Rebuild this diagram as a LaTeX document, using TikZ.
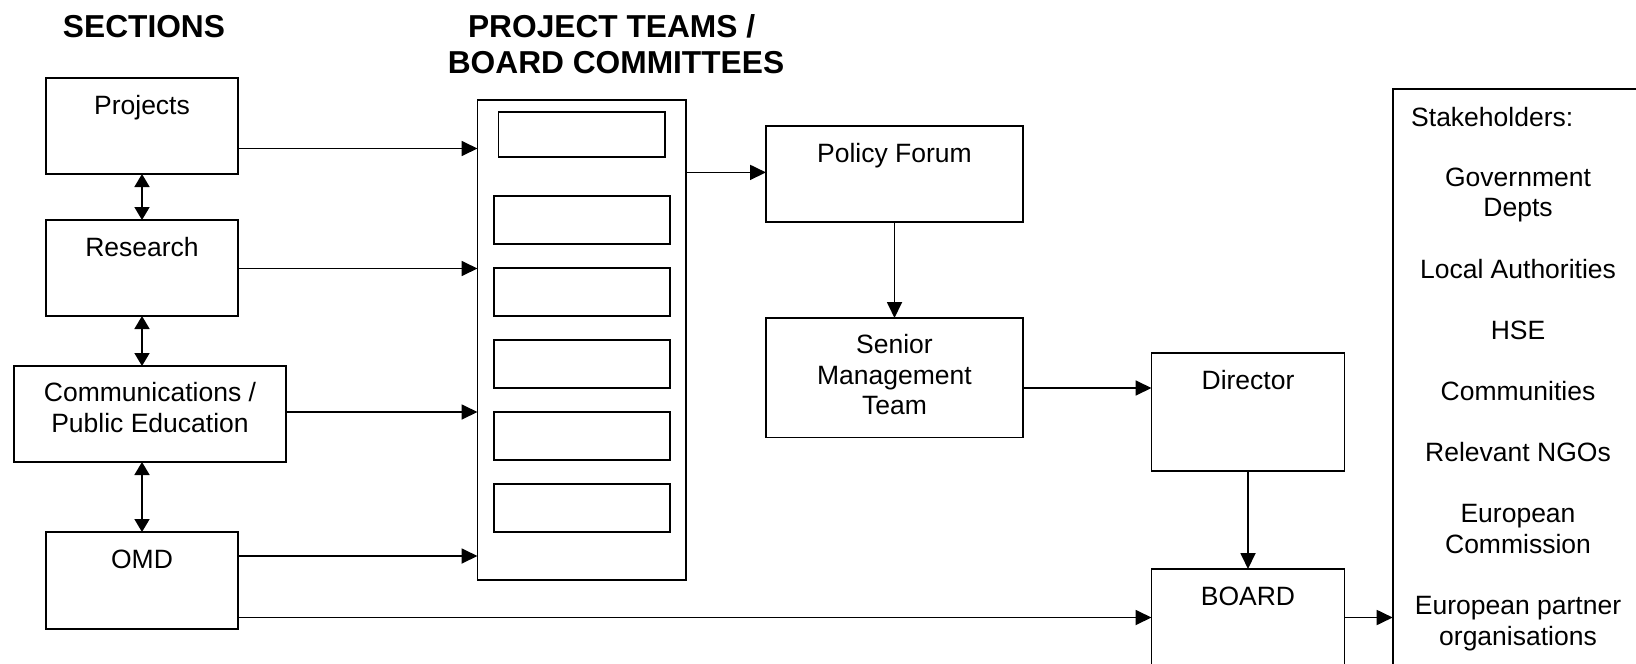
\documentclass[tikz,border=0pt]{standalone}
\usepackage{fontspec}
\setmainfont{Liberation Sans}
\usetikzlibrary{arrows.meta,calc}
\newcommand{\bodyfont}{\fontsize{26.5pt}{30.6pt}\selectfont}
\newcommand{\titlefont}{\fontsize{31.7pt}{36pt}\selectfont\bfseries}
\begin{document}
\begin{tikzpicture}[x=1pt,y=-1pt,
  box/.style={draw, line width=1.8pt, fill=white, inner sep=0pt, outer sep=0pt},
  lbl/.style={anchor=north, inner sep=0pt, align=center, font=\bodyfont,
    execute at begin node={\rule{0pt}{20pt}}},
  arr/.style={line width=1.8pt, -{Triangle[length=16pt,width=15pt]}},
  dbl/.style={line width=1.8pt, {Triangle[length=13pt,width=15pt]}-{Triangle[length=13pt,width=15pt]}}
]
\useasboundingbox (0,0) rectangle (1636,664);
\clip (0,0) rectangle (1636,664);
\fill[white] (0,0) rectangle (1636,664);

% titles
\node[anchor=base, inner sep=0pt, font=\titlefont] (tsec) at (144,37) {SECTIONS};
\node[anchor=north, inner sep=0pt, align=center, font=\titlefont,
  execute at begin node={\rule{0pt}{25pt}}] (tproj) at (616,14)
  {PROJECT TEAMS /\kern8.8pt\\BOARD COMMITTEES};

% sections
\node[box, minimum width=192pt, minimum height=96pt] (proj) at (142,126) {};
\node[box, minimum width=192pt, minimum height=96pt] (res) at (142,268) {};
\node[box, minimum width=272pt, minimum height=96pt] (comm) at (150,414) {};
\node[box, minimum width=192pt, minimum height=97pt] (omd) at (142,580.5) {};
\node[lbl] (lproj) at ([yshift=-16pt]proj.north) {Projects};
\node[lbl] (lres) at ([yshift=-16pt]res.north) {Research};
\node[lbl] (lcomm) at ([yshift=-16pt]comm.north) {Communications /\\Public Education};
\node[lbl] (lomd) at ([yshift=-16pt]omd.north) {OMD};

% column
\node[box, minimum width=208.5pt, minimum height=480pt] (col) at (581.75,340) {};
\node[box, minimum width=166.5pt, minimum height=45pt] (c1) at (581.75,134.5) {};
\node[box, minimum width=176pt, minimum height=48pt] (c2) at (582,220) {};
\node[box, minimum width=176pt, minimum height=48pt] (c3) at (582,292) {};
\node[box, minimum width=176pt, minimum height=48pt] (c4) at (582,364) {};
\node[box, minimum width=176pt, minimum height=48pt] (c5) at (582,436) {};
\node[box, minimum width=176pt, minimum height=48pt] (c6) at (582,508) {};

% management
\node[box, minimum width=257pt, minimum height=96pt] (pf) at (894.5,174) {};
\node[box, minimum width=257pt, minimum height=119.5pt] (smt) at (894.5,377.75) {};
\node[box, minimum width=193pt, minimum height=118pt] (dir) at (1248,412) {};
\node[box, minimum width=193pt, minimum height=131pt] (board) at (1248,634.5) {};
\node[lbl] (lpf) at ([yshift=-16pt]pf.north) {Policy Forum};
\node[lbl] (lsmt) at ([yshift=-16pt]smt.north) {Senior\\Management\\Team};
\node[lbl] (ldir) at ([yshift=-16pt]dir.north) {Director};
\node[lbl] (lboard) at ([yshift=-16pt]board.north) {BOARD};

% stakeholders
\node[box, minimum width=307.3pt, minimum height=671pt] (stake) at (1546.35,424.5) {};
\node[anchor=base west, inner sep=0pt, font=\bodyfont] (lstake) at (1411,126) {Stakeholders:};
\node[lbl] (llist) at (1518,167.5) {Government\\Depts\\[30.6pt]Local Authorities\\[30.6pt]HSE\\[30.6pt]Communities\\[30.6pt]Relevant NGOs\\[30.6pt]European\\Commission\\[30.6pt]European partner\\organisations};

% connectors
\draw[dbl] (proj.south) -- (res.north);
\draw[dbl] (res.south) -- (comm.north -| res.south);
\draw[dbl] (comm.south -| omd.north) -- (omd.north);
\draw[arr] (proj.east |- 0,148.5) -- (col.west |- 0,148.5);
\draw[arr] (res.east |- 0,268.5) -- (col.west |- 0,268.5);
\draw[arr] (comm.east |- 0,412) -- (col.west |- 0,412);
\draw[arr] (omd.east |- 0,556) -- (col.west |- 0,556);
\draw[arr] (omd.east |- 0,617.5) -- (board.west |- 0,617.5);
\draw[arr] (col.east |- 0,172.4) -- (pf.west |- 0,172.4);
\draw[arr] (pf.south) -- (smt.north);
\draw[arr] (smt.east |- 0,388) -- (dir.west |- 0,388);
\draw[arr] (dir.south) -- (board.north);
\draw[arr] (board.east |- 0,617.5) -- (stake.west |- 0,617.5);
\end{tikzpicture}
\end{document}
